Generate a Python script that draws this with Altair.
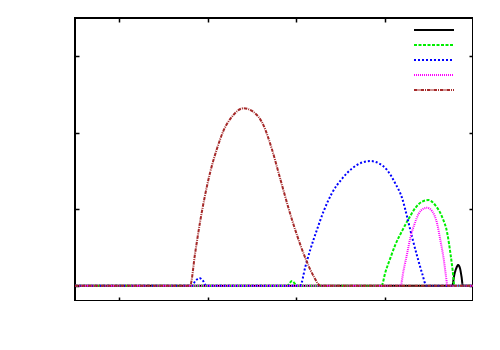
import altair as alt
import pandas as pd

series = ["s1", "s2", "s3", "s4", "s5"]
colors = ["#000000", "#00ee00", "#0000ff", "#ff00ff", "#a52a2a"]
dashes = [[1, 0], [3, 1.5], [2, 2], [1, 1], [3.5, 1, 1, 1]]

s1_x = [0, 8.53, 8.58, 8.63, 8.66, 8.70, 8.74, 8.77, 9]
s1_y = [0, 0, 0.15, 0.24, 0.27, 0.24, 0.12, 0, 0]

s2_x = [0, 4.79, 4.91, 5.02, 6.93, 7.02, 7.13, 7.24, 7.40, 7.55, 7.70, 7.85, 7.99, 8.15, 8.30, 8.42, 8.49, 8.54, 8.58, 9]
s2_y = [0, 0, 0.06, 0, 0, 0.18, 0.36, 0.53, 0.72, 0.88, 1.02, 1.10, 1.12, 1.05, 0.90, 0.68, 0.42, 0.20, 0, 0]

s3_x = [0, 2.64, 2.72, 2.81, 2.90, 2.97, 5.09, 5.21, 5.32, 5.47, 5.62, 5.81, 6.04, 6.26, 6.49, 6.68, 6.87, 7.06, 7.24, 7.40, 7.51, 7.62, 7.74, 7.85, 7.95, 9]
s3_y = [0, 0, 0.06, 0.10, 0.06, 0, 0, 0.25, 0.47, 0.73, 0.97, 1.21, 1.40, 1.53, 1.61, 1.63, 1.60, 1.51, 1.34, 1.14, 0.90, 0.64, 0.38, 0.16, 0, 0]

s4_x = [0, 7.36, 7.43, 7.51, 7.58, 7.68, 7.77, 7.89, 7.96, 8.08, 8.19, 8.26, 8.34, 8.39, 8.42, 9]
s4_y = [0, 0, 0.20, 0.42, 0.62, 0.81, 0.94, 1.01, 1.02, 0.97, 0.81, 0.60, 0.34, 0.12, 0, 0]

s5_x = [0, 2.60, 2.72, 2.83, 2.94, 3.06, 3.21, 3.36, 3.55, 3.81, 4.04, 4.26, 4.45, 4.64, 4.83, 5.02, 5.21, 5.40, 5.55, 9]
s5_y = [0, 0, 0.44, 0.84, 1.18, 1.49, 1.79, 2.03, 2.21, 2.32, 2.27, 2.10, 1.79, 1.40, 1.01, 0.66, 0.36, 0.12, 0, 0]

x_ticks = [1, 3, 5, 7]
y_ticks = [0, 1, 2, 3]

rows = []
for name, xs, ys in zip(series, [s1_x, s2_x, s3_x, s4_x, s5_x], [s1_y, s2_y, s3_y, s4_y, s5_y]):
    for i, (xv, yv) in enumerate(zip(xs, ys)):
        rows.append({"series": name, "x": xv, "y": yv, "i": i})
df = pd.DataFrame(rows)

xs = alt.Scale(domain=[0, 9], nice=False, zero=False)
ys = alt.Scale(domain=[-0.2, 3.5], nice=False, zero=False)

def ax(orient, vals):
    return alt.Axis(orient=orient, values=vals, labels=False, domain=False, grid=False,
                    ticks=True, tickSize=4, tickWidth=1.5, tickColor="black",
                    offset=-4, title=None)

lines = alt.Chart(df).mark_line(strokeWidth=2, clip=True, interpolate="monotone").encode(
    x=alt.X("x:Q", scale=xs, axis=ax("bottom", x_ticks)),
    y=alt.Y("y:Q", scale=ys, axis=ax("left", y_ticks)),
    color=alt.Color("series:N", scale=alt.Scale(domain=series, range=colors),
                    legend=alt.Legend(orient="none", legendX=338, legendY=4.7, title=None,
                                      symbolType="stroke", symbolSize=1600, symbolStrokeWidth=2,
                                      labelFontSize=0, labelExpr="''", padding=0,
                                      clipHeight=14.6, rowPadding=0,
                                      symbolOffset=0, labelOffset=0)),
    strokeDash=alt.StrokeDash("series:N", scale=alt.Scale(domain=series, range=dashes), legend=None),
    order="i:Q",
)

mirror = alt.Chart(df).mark_line(opacity=0).encode(
    x=alt.X("x:Q", scale=xs, axis=ax("top", x_ticks)),
    y=alt.Y("y:Q", scale=ys, axis=ax("right", y_ticks)),
    detail="series:N",
    order="i:Q",
)

chart = alt.layer(lines, mirror).resolve_axis(x="independent", y="independent").properties(
    width=398, height=283,
    autosize=alt.AutoSizeParams(type="none"),
    padding={"left": 67, "top": 10, "right": 0, "bottom": 0},
).configure_view(stroke="black", strokeWidth=2)

chart.save("out.html", embed_options={"renderer": "svg", "actions": False})
